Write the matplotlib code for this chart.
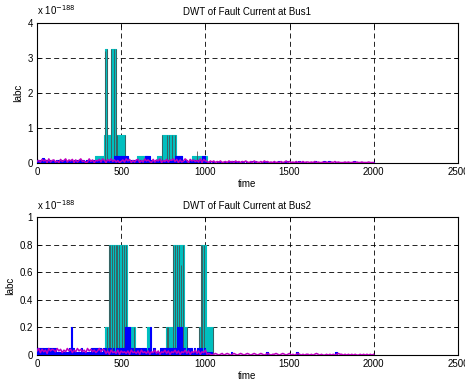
import numpy as np
import matplotlib
matplotlib.use('Agg')
import matplotlib.pyplot as plt

plt.rcParams['font.family'] = ['Liberation Sans', 'DejaVu Sans']

# ---- data (values in units of 1e-188) ----
# cyan stair series: breakpoints and level after each breakpoint
cyan_top_t = [0, 346, 399, 401, 415, 441, 468, 524, 593, 662, 715, 745, 824, 860, 923, 1008, 2000]
cyan_top_v = [0, 0.2, 0.8, 3.25, 0.8, 3.25, 0.8, 0, 0.2, 0, 0.2, 0.8, 0.2, 0, 0.2, 0, 0]
cyan_bot_t = [0, 405, 425, 534, 583, 652, 672, 765, 808, 872, 889, 962, 974, 1002, 1047, 2000]
cyan_bot_v = [0, 0.2, 0.8, 0.2, 0, 0.2, 0, 0.2, 0.8, 0.2, 0, 0.2, 0.8, 0.2, 0, 0]

# dark grey spikes (time, height)
grey_top_t = [401, 415, 441, 455, 468, 474, 520, 745, 771, 787, 800, 820, 949]
grey_top_v = [3.2, 3.25, 3.25, 3.25, 3.25, 0.8, 0.8, 0.8, 0.8, 0.8, 0.8, 0.8, 0.35]
grey_bot_t = [415, 425, 435, 445, 455, 468, 478, 490, 504, 518, 530, 553, 579,
              771, 781, 808, 820, 830, 844, 856, 870, 889, 964, 974, 982, 994, 1047]
grey_bot_v = [0.2, 0.8, 0.8, 0.8, 0.8, 0.8, 0.8, 0.8, 0.8, 0.8, 0.8, 0.2, 0.2,
              0.2, 0.2, 0.8, 0.8, 0.8, 0.8, 0.65, 0.8, 0.2, 0.2, 0.8, 0.8, 0.8, 0.2]

# noise, one digit per 10 time units (t = 0..2000)
mag_top = ("3527461825" "6241735826" "4716258341" "2836154728" "5174836251"
           "3628471526" "7152846317" "2648153726" "5837162485" "1746352817" "4"
           "3142413241" "2314231423" "1324213142" "2131423121" "3121312413"
           "1213121312" "2121312112" "1211213121" "1121211212" "1121112111")
blue_top = ("3236232323" "2332323223" "3232332323" "2323232332" "2332328888"
            "8888332323" "2323888232" "3232323232" "3288883232" "2323232388" "2"
            "1202101210" "1012021010" "2101012020" "1010210101" "0120101201"
            "1010201010" "0101201012" "1020101010" "0101010201" "0101001010")
mag_bot = ("5837462857" "6485736485" "7364857463" "8574635847" "6"
           "2516342615" "3425163425" "1634251436" "2514362514" "3625143625" "1436251436"
           "1210121012" "0121012101" "2101210121" "0121012101" "1210121012"
           "0101210101" "1010121010" "0101010121" "1010101010" "0101010101")
blue_bot = ("2222122222" "2111111112" "8211112111" "1122222212" "2122121222"
            "2288812122" "2122212812" "1112222222" "2228881212" "1212121212" "1"
            "1010000000" "0000100000" "0000000000" "0000010000" "0000000000"
            "0001000000" "0000000000" "0000001000" "0000000000" "0000000000")

noise_t = np.arange(0, 2001, 10)

CYAN = '#00BFBF'
GREY = '#4a4a4a'
BLUE = '#0000FF'
MAG = '#BF00BF'


def draw(ax, ct, cv, gt, gv, mag, blue, mag_unit, blue_unit, ymax, yticks, ylabels, title):
    ax.fill_between(ct, cv, step='post', color=CYAN, lw=0, zorder=2)
    ax.step(ct, cv, where='post', color=CYAN, lw=0.8, zorder=2)
    ax.vlines(gt, 0, gv, color=GREY, lw=0.55, zorder=3)
    bv = [int(c) * blue_unit for c in blue]
    ax.fill_between(noise_t, bv, step='post', color=BLUE, lw=0, zorder=4)
    ax.step(noise_t, bv, where='post', color=BLUE, lw=0.8, zorder=4)
    ax.plot(noise_t, [int(c) * mag_unit for c in mag], color=MAG, lw=1.1, zorder=5)

    ax.set_xlim(0, 2500)
    ax.set_ylim(0, ymax)
    ax.set_xticks([0, 500, 1000, 1500, 2000, 2500])
    ax.set_yticks(yticks)
    ax.set_yticklabels(ylabels)
    ax.grid(True, color='k', lw=0.6, linestyle=(0, (6, 4)), zorder=1)
    ax.set_axisbelow(True)
    ax.tick_params(direction='in', length=3, width=0.6, labelsize=7, pad=3,
                   top=True, right=True)
    for s in ax.spines.values():
        s.set_linewidth(0.8)
    ax.set_xlabel('time', fontsize=7, labelpad=1)
    ax.set_ylabel('Iabc', fontsize=7, labelpad=3)
    ax.set_title(title, fontsize=7, pad=6)
    ax.text(0, 1.04, r'x 10$^{-188}$', transform=ax.transAxes, fontsize=7,
            ha='left', va='bottom')


fig = plt.figure(figsize=(4.65, 3.81), dpi=100)
ax1 = fig.add_axes([0.0796, 0.572, 0.905, 0.3675])
ax2 = fig.add_axes([0.0796, 0.068, 0.905, 0.3622])

draw(ax1, cyan_top_t, cyan_top_v, grey_top_t, grey_top_v, mag_top, blue_top,
     0.015, 0.025, 4, [0, 1, 2, 3, 4], ['0', '1', '2', '3', '4'],
     'DWT of Fault Current at Bus1')
draw(ax2, cyan_bot_t, cyan_bot_v, grey_bot_t, grey_bot_v, mag_bot, blue_bot,
     0.006, 0.025, 1, [0, 0.2, 0.4, 0.6, 0.8, 1], ['0', '0.2', '0.4', '0.6', '0.8', '1'],
     'DWT of Fault Current at Bus2')

fig.savefig('out.png', dpi=100)
